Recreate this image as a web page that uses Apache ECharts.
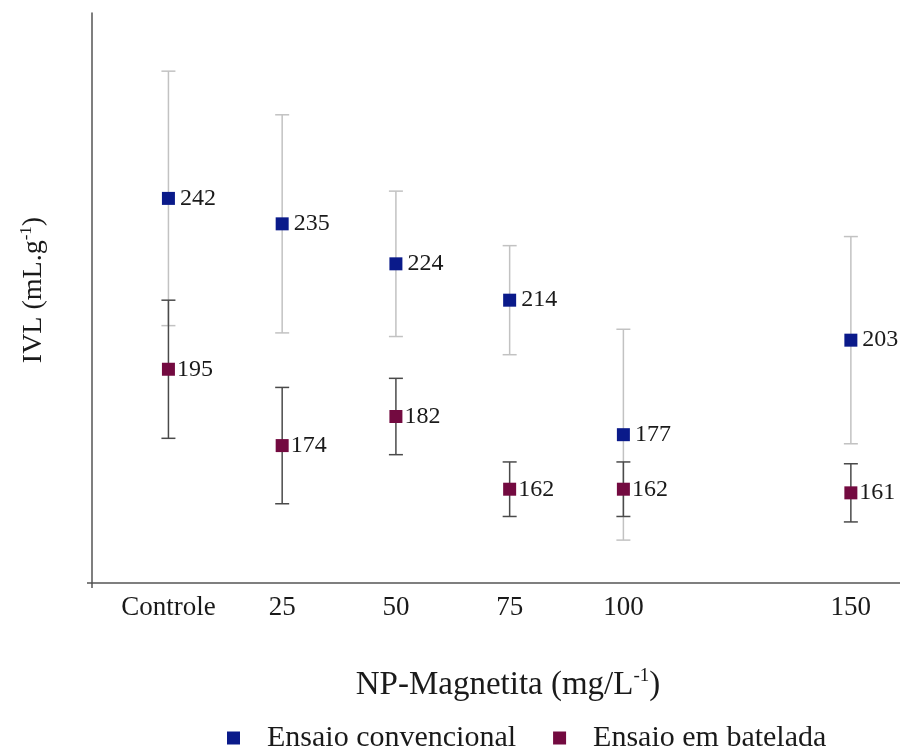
<!DOCTYPE html>
<html>
<head>
<meta charset="utf-8">
<script src="https://cdn.jsdelivr.net/npm/echarts@6.0.0/dist/echarts.min.js"></script>
<style>
  html, body { margin: 0; padding: 0; background: #fff; }
  #chart { width: 900px; height: 751px; }
</style>
</head>
<body>
<div id="chart"></div>
<script>
// NP-Magnetita concentration (mg/L), Controle = 0
const conc = [0, 25, 50, 75, 100, 150]
const concLabels = ['Controle', '25', '50', '75', '100', '150']

// IVL (mL/g) means and error half-widths
const convMean = [242, 235, 224, 214, 177, 203]
const convErr = [35, 30, 20, 15, 29, 28.5]
const batchMean = [195, 174, 182, 162, 162, 161]
const batchErr = [19, 16, 10.5, 7.5, 7.5, 8]

const FONT = '"Liberation Serif", "Times New Roman", serif'
const TEXT = '#1a1a1a'
const BLUE = '#0a1a8a'
const MAROON = '#730a40'

const yMin = 136.2
const yMax = 293

const errorBars = (mean, err) => conc.map((c, i) => [c, mean[i] - err[i], mean[i] + err[i]])
const points = (mean) => conc.map((c, i) => [c, mean[i]])

const errorBarRenderer = (color) => (params, api) => {
  const x = api.value(0)
  const top = api.coord([x, api.value(2)])
  const bottom = api.coord([x, api.value(1)])
  const half = 7
  const style = { stroke: color, lineWidth: 1.5, fill: null }
  return {
    type: 'group',
    children: [
      { type: 'line', shape: { x1: top[0], y1: top[1], x2: bottom[0], y2: bottom[1] }, style },
      { type: 'line', shape: { x1: top[0] - half, y1: top[1], x2: top[0] + half, y2: top[1] }, style },
      { type: 'line', shape: { x1: bottom[0] - half, y1: bottom[1], x2: bottom[0] + half, y2: bottom[1] }, style }
    ]
  }
}

const pointLabel = (distance) => ({
  show: true,
  position: 'right',
  distance,
  formatter: (p) => p.value[1],
  fontSize: 24,
  fontFamily: FONT,
  color: TEXT
})

const chart = echarts.init(document.getElementById('chart'))

chart.setOption({
  backgroundColor: '#fff',
  animation: false,
  textStyle: { fontFamily: FONT, color: TEXT },
  grid: { left: 92, right: 0, top: 13, bottom: 168, outerBoundsMode: 'none', containLabel: false },
  legend: {
    data: ['Ensaio convencional', 'Ensaio em batelada'],
    left: 222,
    top: 718,
    icon: 'rect',
    itemWidth: 13,
    itemHeight: 13,
    itemGap: 37,
    textStyle: { fontSize: 30, fontFamily: FONT, color: TEXT, padding: [0, 0, 0, 22] }
  },
  xAxis: {
    type: 'value',
    min: -16.8,
    max: 160.8,
    name: '{a|NP-Magnetita (mg/L}{sup|-1}{a|)}',
    nameLocation: 'middle',
    nameGap: 84,
    nameTextStyle: {
      padding: [0, 0, 0, 24],
      rich: {
        a: { fontSize: 33, fontFamily: FONT, color: TEXT },
        sup: { fontSize: 19, fontFamily: FONT, color: TEXT, padding: [0, 0, 17, 0] }
      }
    },
    axisLine: { onZero: false, lineStyle: { color: '#555', width: 1.5 } },
    axisTick: { show: true, customValues: [-16.8], length: 5, lineStyle: { color: '#555', width: 1.5 } },
    splitLine: { show: false },
    axisLabel: {
      customValues: conc,
      formatter: (v) => concLabels[conc.indexOf(v)] ?? '',
      fontSize: 27,
      fontFamily: FONT,
      color: TEXT,
      margin: 11
    }
  },
  yAxis: {
    type: 'value',
    min: yMin,
    max: yMax,
    name: '{a|IVL (mL.g}{sup|-1}{a|)}',
    nameLocation: 'middle',
    nameGap: 42,
    nameTextStyle: {
      padding: [0, 0, 0, 16],
      rich: {
        a: { fontSize: 28, fontFamily: FONT, color: TEXT },
        sup: { fontSize: 17, fontFamily: FONT, color: TEXT, padding: [0, 0, 15, 0] }
      }
    },
    axisLine: { show: true, onZero: false, lineStyle: { color: '#555', width: 1.5 } },
    axisTick: { show: true, customValues: [yMin], length: 5, lineStyle: { color: '#555', width: 1.5 } },
    axisLabel: { show: false },
    splitLine: { show: false }
  },
  series: [
    {
      name: 'conv-err',
      type: 'custom',
      z: 1,
      renderItem: errorBarRenderer('#c2c2c2'),
      encode: { x: 0, y: [1, 2] },
      data: errorBars(convMean, convErr),
      silent: true
    },
    {
      name: 'batch-err',
      type: 'custom',
      z: 2,
      renderItem: errorBarRenderer('#4a4a4a'),
      encode: { x: 0, y: [1, 2] },
      data: errorBars(batchMean, batchErr),
      silent: true
    },
    {
      name: 'Ensaio convencional',
      type: 'scatter',
      z: 3,
      symbol: 'rect',
      symbolSize: 13,
      itemStyle: { color: BLUE, opacity: 1 },
      data: points(convMean),
      label: pointLabel(5)
    },
    {
      name: 'Ensaio em batelada',
      type: 'scatter',
      z: 4,
      symbol: 'rect',
      symbolSize: 13,
      itemStyle: { color: MAROON, opacity: 1 },
      data: points(batchMean),
      label: pointLabel(2)
    }
  ]
})
</script>
</body>
</html>
